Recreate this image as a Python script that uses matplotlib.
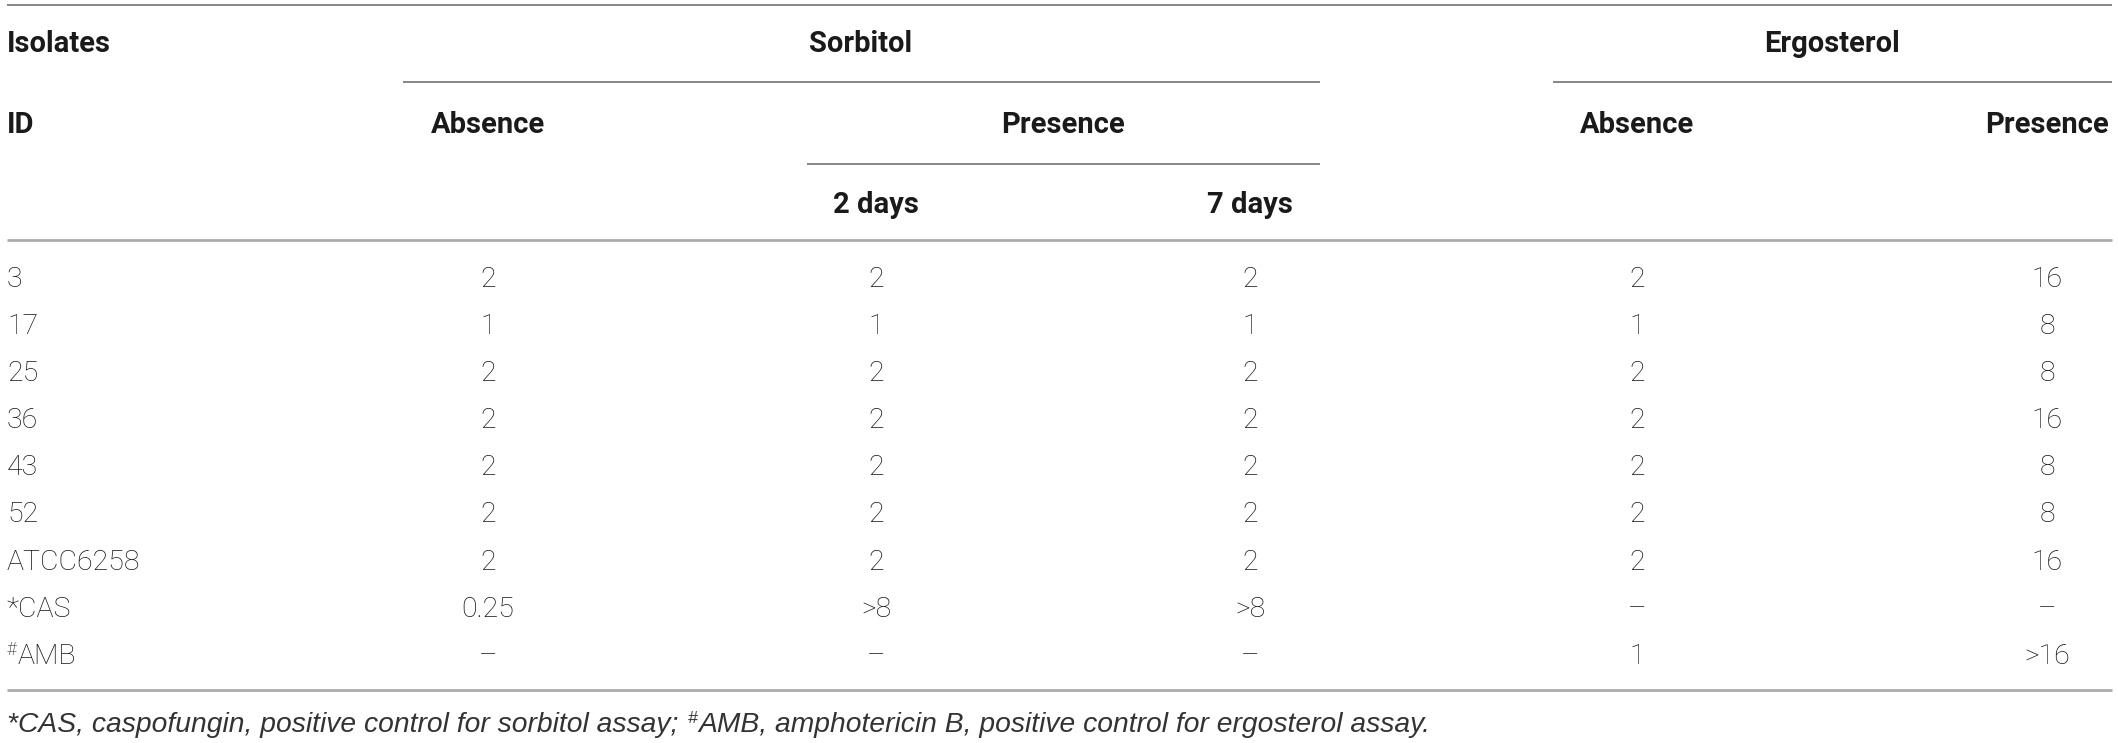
import matplotlib
matplotlib.use('Agg')
import matplotlib.pyplot as plt

### table content ###
isolates = ['3', '17', '25', '36', '43', '52', 'ATCC6258', '*CAS', '#AMB']
sorb_absence = ['2', '1', '2', '2', '2', '2', '2', '0.25', '\u2013']
sorb_2days = ['2', '1', '2', '2', '2', '2', '2', '>8', '\u2013']
sorb_7days = ['2', '1', '2', '2', '2', '2', '2', '>8', '\u2013']
erg_absence = ['2', '1', '2', '2', '2', '2', '2', '\u2013', '1']
erg_presence = ['16', '8', '8', '16', '8', '8', '16', '\u2013', '>16']

footnote = [('*CAS, caspofungin, positive control for sorbitol assay; ', False),
            ('#', True),
            ('AMB, amphotericin B, positive control for ergosterol assay.', False)]

### plotting parameters ###
W, H = 2118, 743
fam = ['Roboto', 'DejaVu Sans']
fam_note = ['Liberation Sans', 'DejaVu Sans']
fs_head = 21
fs_data = 20.5
fs_note = 20.3
col_head = '#1a1a1a'
col_data = '#151515'
line_dark = '#7d7d7d'
line_light = '#ababab'

x_left, x_right = 7, 2112
data_cols = [488, 876, 1250, 1637, 2047]
row0, row_step = 287, 47.1

fig = plt.figure(figsize=(W / 100, H / 100), dpi=100)
ax = fig.add_axes([0, 0, 1, 1])
ax.set_xlim(0, W)
ax.set_ylim(H, 0)
ax.axis('off')


def head(x, y, s, ha='center'):
    ax.text(x, y, s, ha=ha, va='baseline', fontsize=fs_head, fontweight='bold',
            family=fam, color=col_head)


def hline(y, x0, x1, c=line_dark, lw=1.3):
    ax.plot([x0, x1], [y, y], color=c, linewidth=lw, solid_capstyle='butt')


renderer = fig.canvas.get_renderer()


def pieces(x, y, parts, size, family, weight='light', style='normal', color=col_data):
    # draw text left to right, small raised glyphs for superscripts
    for s, sup in parts:
        if sup:
            t = ax.text(x, y - 9, s, ha='left', va='baseline', fontsize=size * 0.62,
                        fontweight=weight, style=style, family=family, color=color)
        else:
            t = ax.text(x, y, s, ha='left', va='baseline', fontsize=size,
                        fontweight=weight, style=style, family=family, color=color)
        bb = t.get_window_extent(renderer=renderer)
        x = x + bb.width + 1


# rules
hline(5, x_left, x_right)
hline(82, 403, 1320)
hline(82, 1553, x_right)
hline(164, 807, 1320)
hline(240, x_left, x_right, c=line_light, lw=2)
hline(690, x_left, x_right, c=line_light, lw=2)

# header
head(x_left, 52, 'Isolates', ha='left')
head(861, 52, 'Sorbitol')
head(1832, 52, 'Ergosterol')
head(x_left, 133, 'ID', ha='left')
head(488, 133, 'Absence')
head(1063, 133, 'Presence')
head(1637, 133, 'Absence')
head(2047, 133, 'Presence')
head(876, 213, '2 days')
head(1250, 213, '7 days')

# body
columns = [sorb_absence, sorb_2days, sorb_7days, erg_absence, erg_presence]
for i, name in enumerate(isolates):
    y = row0 + row_step * i
    if name.startswith('#'):
        pieces(x_left, y, [('#', True), (name[1:], False)], fs_data, fam)
    else:
        ax.text(x_left, y, name, ha='left', va='baseline', fontsize=fs_data,
                fontweight='light', family=fam, color=col_data)
    for xc, vals in zip(data_cols, columns):
        ax.text(xc, y, vals[i], ha='center', va='baseline', fontsize=fs_data,
                fontweight='light', family=fam, color=col_data)

# footnote
pieces(x_left, 732, footnote, fs_note, fam_note, weight='normal', style='italic',
       color='#333333')

plt.savefig('out.png', dpi=100)
plt.close()
